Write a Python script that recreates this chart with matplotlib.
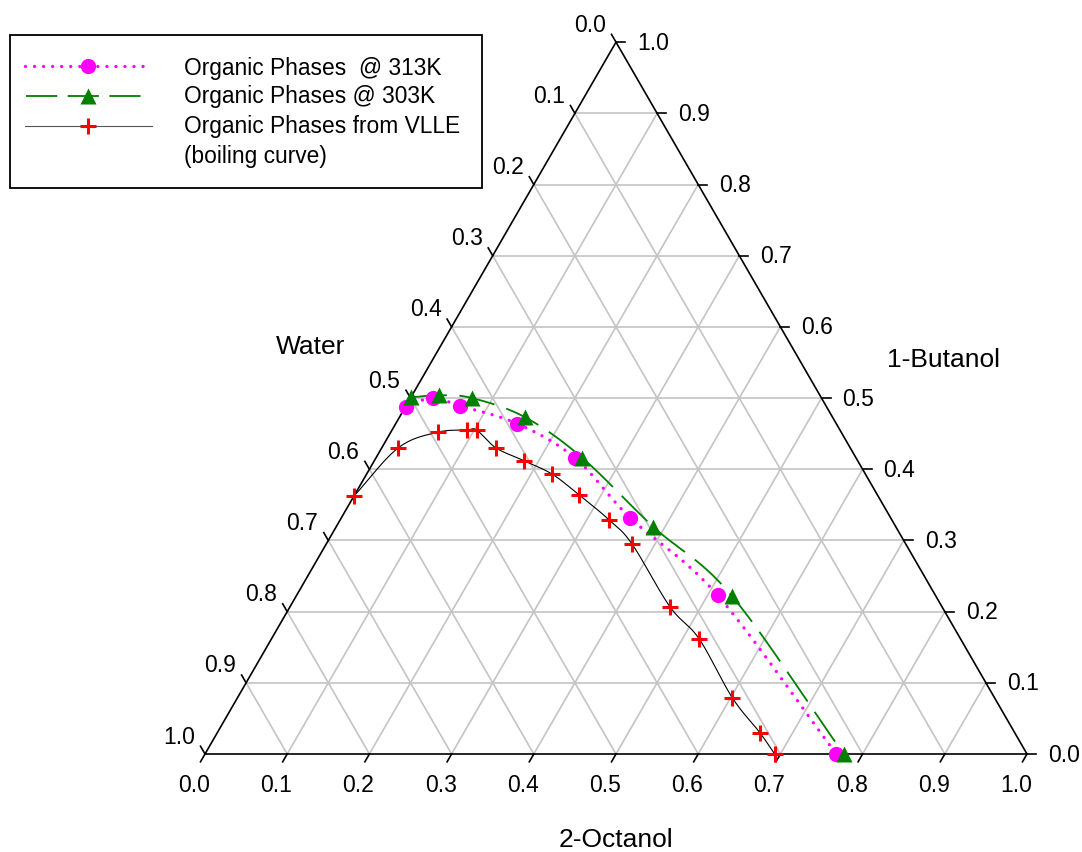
import numpy as np
import matplotlib
matplotlib.use('Agg')
import matplotlib.pyplot as plt

plt.rcParams['font.family'] = ['Liberation Sans', 'DejaVu Sans']
plt.rcParams['lines.scale_dashes'] = False

# compositions (mass fractions), water = 1 - octanol - butanol
oct_313 = [0.000, 0.027, 0.066, 0.148, 0.242, 0.351, 0.512, 0.768]
but_313 = [0.488, 0.500, 0.489, 0.464, 0.416, 0.332, 0.223, 0.000]

oct_303 = [0.000, 0.033, 0.075, 0.153, 0.251, 0.386, 0.530, 0.777]
but_303 = [0.501, 0.504, 0.500, 0.473, 0.416, 0.319, 0.222, 0.000]

oct_vlle = [0.000, 0.020, 0.057, 0.091, 0.103, 0.139, 0.182, 0.226,
            0.273, 0.327, 0.372, 0.462, 0.520, 0.602, 0.660, 0.693]
but_vlle = [0.362, 0.430, 0.452, 0.455, 0.455, 0.430, 0.412, 0.393,
            0.364, 0.329, 0.295, 0.207, 0.162, 0.079, 0.030, 0.000]

ticks = np.round(np.arange(0, 1.01, 0.1), 1)
legend_lines = ['Organic Phases  @ 313K', 'Organic Phases @ 303K',
                'Organic Phases from VLLE', '(boiling curve)']

H = np.sqrt(3) / 2
PX = 1 / 822.0  # one pixel in data units


def to_xy(octanol, butanol):
    octanol = np.asarray(octanol, float)
    butanol = np.asarray(butanol, float)
    return octanol + butanol / 2, butanol * H


def smooth(x, y, n=24):
    # catmull-rom through the points, only for drawing the curve
    p = np.column_stack([x, y])
    p = np.vstack([2 * p[0] - p[1], p, 2 * p[-1] - p[-2]])
    out = []
    t = np.linspace(0, 1, n, endpoint=False)[:, None]
    for i in range(1, len(p) - 2):
        p0, p1, p2, p3 = p[i - 1], p[i], p[i + 1], p[i + 2]
        seg = 0.5 * ((2 * p1) + (-p0 + p2) * t + (2 * p0 - 5 * p1 + 4 * p2 - p3) * t ** 2
                     + (-p0 + 3 * p1 - 3 * p2 + p3) * t ** 3)
        out.append(seg)
    out.append(p[-2][None, :])
    out = np.vstack(out)
    return out[:, 0], out[:, 1]


fig = plt.figure(figsize=(10.82, 8.52), dpi=100)
ax = fig.add_axes([0, 0, 1, 1])
ax.set_xlim(-205 * PX, (1082 - 205) * PX)
ax.set_ylim(-(852 - 754) * PX, 754 * PX)
ax.set_aspect('equal')
ax.axis('off')

grid_c = '#c4c4c4'
for v in ticks[1:-1]:
    # constant octanol (parallel to left edge)
    ax.plot([v, v + (1 - v) / 2], [0, (1 - v) * H], color=grid_c, lw=1.2, zorder=1)
    # constant butanol (horizontal)
    ax.plot([v / 2, 1 - v / 2], [v * H, v * H], color=grid_c, lw=1.2, zorder=1)
    # constant water (parallel to right edge)
    ax.plot([1 - v, (1 - v) / 2], [0, (1 - v) * H], color=grid_c, lw=1.2, zorder=1)

ax.plot([0, 1, 0.5, 0], [0, 0, H, 0], color='black', lw=1.2, zorder=2)

tl = 9 * PX
fs_tick = 16.5
for v in ticks:
    # bottom axis: 2-Octanol
    bx, by = v, 0
    ax.plot([bx, bx - 0.5 * tl], [by, by - H * tl], color='black', lw=1.2)
    ax.text(bx - 11 * PX, by - 32 * PX, f'{v:.1f}', ha='center', va='center', fontsize=fs_tick)
    # right axis: 1-Butanol
    rx, ry = 1 - v / 2, v * H
    ax.plot([rx, rx + tl], [ry, ry], color='black', lw=1.2)
    ax.text(rx + 21 * PX, ry - 1 * PX, f'{v:.1f}', ha='left', va='center', fontsize=fs_tick)
    # left axis: Water (0 at top)
    lx, ly = 0.5 - v / 2, (1 - v) * H
    ax.plot([lx, lx - 0.5 * tl], [ly, ly + H * tl], color='black', lw=1.2)
    ax.text(lx - 26 * PX, ly + 17 * PX, f'{v:.1f}', ha='center', va='center', fontsize=fs_tick)

fs_title = 19
ax.text(0.129, 0.495, 'Water', ha='center', va='center', fontsize=fs_title)
ax.text(0.899, 0.479, '1-Butanol', ha='center', va='center', fontsize=fs_title)
ax.text(0.5, -0.1046, '2-Octanol', ha='center', va='center', fontsize=fs_title)

# 313K: magenta dotted
x, y = to_xy(oct_313, but_313)
sx, sy = smooth(x, y)
ax.plot(sx, sy, color='magenta', lw=2.4, dashes=(0.01, 6.5), dash_capstyle='round', zorder=3)
ax.plot(x, y, 'o', color='magenta', ms=11, mec='none', zorder=5)

# 303K: green long dashes
x, y = to_xy(oct_303, but_303)
sx, sy = smooth(x, y)
ax.plot(sx, sy, color='green', lw=1.3, dashes=(26, 9), zorder=3)
ax.plot(x, y, '^', color='green', ms=11.5, mec='none', zorder=6)

# VLLE: thin black line, red crosses
x, y = to_xy(oct_vlle, but_vlle)
sx, sy = smooth(x, y)
ax.plot(sx, sy, color='black', lw=0.8, zorder=3)
ax.plot(x, y, '+', color='red', ms=12, mew=2.2, zorder=4)

# legend, drawn in figure pixels
lg = fig.add_axes([0, 0, 1, 1], facecolor='none')
lg.set_xlim(0, 1082)
lg.set_ylim(852, 0)
lg.axis('off')
lg.add_patch(plt.Rectangle((10, 35), 472, 153, fill=False, ec='black', lw=1.3))
lg.plot([25, 150], [66, 66], color='magenta', lw=2.4, dashes=(0.01, 6.5), dash_capstyle='round')
lg.plot([88], [66], 'o', color='magenta', ms=11, mec='none')
lg.plot([26, 142], [96, 96], color='green', lw=1.3, dashes=(22.5, 7.5))
lg.plot([88], [96], '^', color='green', ms=11.5, mec='none')
lg.plot([25, 152], [126, 126], color='#555555', lw=0.8)
lg.plot([88], [126], '+', color='red', ms=12, mew=2.2)
for yy, lab in zip([68, 97, 127, 157], legend_lines):
    lg.text(184, yy, lab, ha='left', va='center', fontsize=16.4)

fig.savefig('out.png', dpi=100)
